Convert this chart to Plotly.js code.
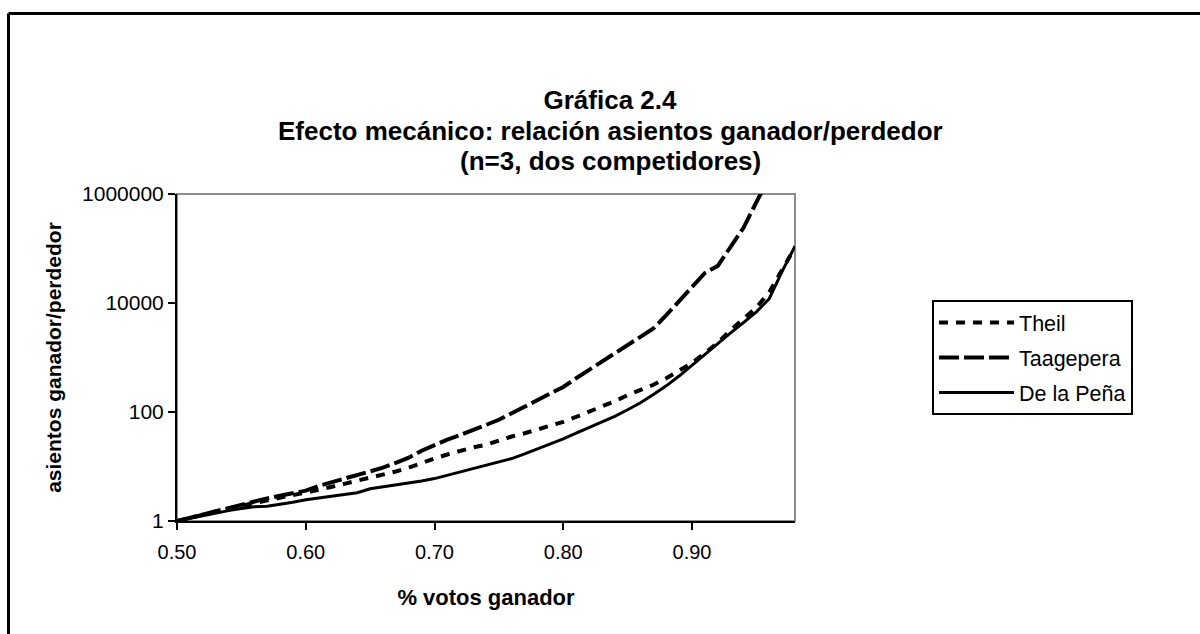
<!DOCTYPE html>
<html>
<head>
<meta charset="utf-8">
<script src="https://cdn.plot.ly/plotly-3.0.1.min.js"></script>
<style>
  html, body { margin: 0; padding: 0; background: #ffffff; }
  #chart { width: 1200px; height: 634px; }
</style>
</head>
<body>
<div id="chart"></div>
<script>
// ---- data ----
const votes = [0.50,0.51,0.52,0.53,0.54,0.55,0.56,0.57,0.58,0.59,
               0.60,0.61,0.62,0.63,0.64,0.65,0.66,0.67,0.68,0.69,
               0.70,0.71,0.72,0.73,0.74,0.75,0.76,0.77,0.78,0.79,
               0.80,0.81,0.82,0.83,0.84,0.85,0.86,0.87,0.88,0.89,
               0.90,0.91,0.92,0.93,0.94,0.95,0.96,0.97,0.98];

const theil = [1,1.15,1.29,1.48,1.7,1.9,2.15,2.4,2.7,3.0,
               3.3,3.7,4.2,4.8,5.5,6.2,6.9,8.1,9.5,11.7,
               14,16.6,19.5,22.4,25,30,35.5,40.7,48,55,
               66,81,100,126,158,204,251,316,417,562,
               794,1200,1860,3160,5000,8300,15800,41700,105000];

const taagepera = [1,1.15,1.32,1.5,1.75,2.0,2.25,2.6,2.9,3.2,
                   3.6,4.4,5.1,6.0,7.1,8.1,9.5,11.7,14.5,19.5,
                   25,31,38,48,58,72,95,123,158,209,
                   288,417,589,832,1175,1660,2400,3400,6000,11000,
                   19500,35500,48000,105000,240000,710000,2000000];

const delaPena = [1,1.12,1.26,1.41,1.55,1.7,1.82,1.86,2.0,2.2,
                  2.45,2.63,2.8,3.0,3.3,3.9,4.2,4.6,4.9,5.4,
                  6.0,6.9,8.1,9.3,10.5,12,14,17,21,26,
                  32,41,52,66,83,110,148,209,302,457,
                  724,1120,1780,2820,4370,6900,12000,38000,110000];

const seriesNames = ["Theil", "Taagepera", "De la Peña"];
const titleLines = ["Gráfica 2.4",
                    "Efecto mecánico: relación asientos ganador/perdedor",
                    "(n=3, dos competidores)"];
const yTickVals = [1, 100, 10000, 1000000];
const yTickText = ["1", "100", "10000", "1000000"];
const xTickVals = [0.50, 0.60, 0.70, 0.80, 0.90];
const xTickText = ["0.50", "0.60", "0.70", "0.80", "0.90"];

// ---- layout geometry ----
const W = 1200, H = 634;
const M = { l: 177, r: 405, t: 194, b: 113 };
const plotW = W - M.l - M.r, plotH = H - M.t - M.b;
const px2x = p => (p - M.l) / plotW;
const px2y = p => (H - M.b - p) / plotH;

const FONT = '"Liberation Sans", Arial, sans-serif';
const TITLE_SIZE = 26;

const traces = [
  { x: votes, y: theil, name: seriesNames[0], legendgroup: 'g1', type: 'scatter', mode: 'lines',
    line: { color: '#000000', width: 4, dash: '9px,8px' } },
  { x: votes.slice(0, taagepera.length), y: taagepera, name: seriesNames[1], legendgroup: 'g2', type: 'scatter', mode: 'lines',
    line: { color: '#000000', width: 4, dash: '20px,5px' } },
  { x: votes, y: delaPena, name: seriesNames[2], legendgroup: 'g3', type: 'scatter', mode: 'lines',
    line: { color: '#000000', width: 3 } }
];

const layout = {
  width: W, height: H,
  margin: M,
  paper_bgcolor: '#ffffff',
  plot_bgcolor: '#ffffff',
  font: { family: FONT, color: '#000000', size: 20 },
  showlegend: true,
  title: {
    text: '<b>' + titleLines[0] + '</b>',
    font: { family: FONT, size: TITLE_SIZE, color: '#000000' },
    x: 610 / W, xanchor: 'center', xref: 'container',
    y: 1 - 100 / H, yanchor: 'middle', yref: 'container'
  },
  annotations: [
    { text: '<b>' + titleLines[1] + '</b>', xref: 'paper', yref: 'paper',
      x: px2x(610), y: px2y(131), xanchor: 'center', yanchor: 'middle', showarrow: false,
      font: { family: FONT, size: TITLE_SIZE, color: '#000000' } },
    { text: '<b>' + titleLines[2] + '</b>', xref: 'paper', yref: 'paper',
      x: px2x(610), y: px2y(161), xanchor: 'center', yanchor: 'middle', showarrow: false,
      font: { family: FONT, size: TITLE_SIZE, color: '#000000' } }
  ],
  xaxis: {
    type: 'linear', range: [0.50, 0.98],
    tickvals: xTickVals, ticktext: xTickText,
    ticks: 'outside', ticklen: 7, tickwidth: 2, tickcolor: '#000000',
    ticklabelstandoff: 5,
    showline: true, linecolor: '#000000', linewidth: 2,
    showgrid: false, zeroline: false,
    tickfont: { family: FONT, size: 20, color: '#000000' },
    title: { text: '<b>% votos ganador</b>', font: { family: FONT, size: 22, color: '#000000' }, standoff: 28 }
  },
  yaxis: {
    type: 'log', range: [0, 6],
    tickvals: yTickVals, ticktext: yTickText,
    ticks: 'outside', ticklen: 7, tickwidth: 2, tickcolor: '#000000',
    showline: true, linecolor: '#000000', linewidth: 2,
    showgrid: false, zeroline: false,
    tickfont: { family: FONT, size: 21, color: '#000000' },
    title: { text: '<b>asientos ganador/perdedor</b>', font: { family: FONT, size: 21, color: '#000000' }, standoff: 15 }
  },
  legend: {
    x: px2x(932), y: px2y(300), xanchor: 'left', yanchor: 'top',
    bordercolor: '#000000', borderwidth: 2, bgcolor: '#ffffff',
    font: { family: FONT, size: 21.5, color: '#000000' },
    itemwidth: 75,
    traceorder: 'grouped',
    tracegroupgap: 4
  },
  shapes: [
    // grey frame of plot area (top/right)
    { type: 'rect', xref: 'paper', yref: 'paper', x0: 0, x1: 1, y0: 0, y1: 1,
      line: { color: '#8c8c8c', width: 2 }, layer: 'below' },
    // outer chart border (top and left edges visible)
    { type: 'line', xref: 'paper', yref: 'paper',
      x0: px2x(8.5), x1: px2x(1300), y0: px2y(13.5), y1: px2y(13.5),
      line: { color: '#000000', width: 3 } },
    { type: 'line', xref: 'paper', yref: 'paper',
      x0: px2x(8.5), x1: px2x(8.5), y0: px2y(13.5), y1: px2y(700),
      line: { color: '#000000', width: 3 } }
  ]
};

Plotly.newPlot('chart', traces, layout, { staticPlot: true, displayModeBar: false });
</script>
</body>
</html>
